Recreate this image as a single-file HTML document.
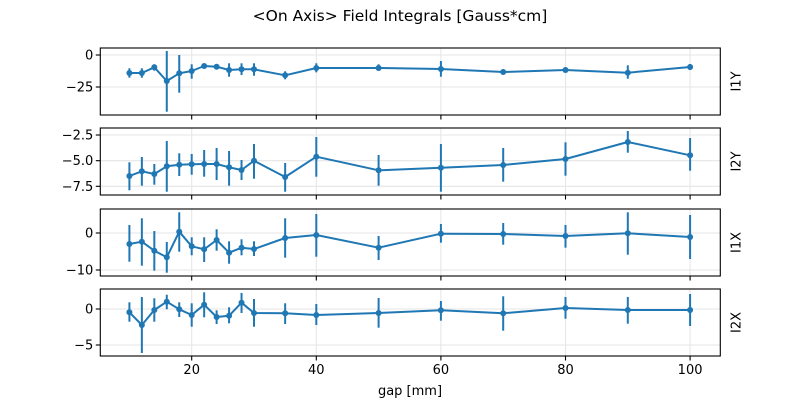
<!DOCTYPE html>
<html><head><meta charset="utf-8"><style>
html,body{margin:0;padding:0;background:#fff}
svg{display:block;font-family:"DejaVu Sans","Liberation Sans",sans-serif}
</style></head><body>
<svg id="s" width="800" height="400" xmlns="http://www.w3.org/2000/svg">
<text x="400" y="21" font-size="15.5" text-anchor="middle" fill="#000">&lt;On Axis&gt; Field Integrals [Gauss*cm]</text>
<text x="410" y="395" font-size="13" text-anchor="middle">gap [mm]</text>
</svg>
<script>
const s=document.getElementById('s');const NS='http://www.w3.org/2000/svg';
function el(t,a,txt){const e=document.createElementNS(NS,t);for(const k in a)e.setAttribute(k,a[k]);if(txt!==undefined)e.textContent=txt;s.appendChild(e);return e;}
const gaps=[10,12,14,16,18,20,22,24,26,28,30,35,40,50,60,70,80,90,100];
const X=g=>191.7+(g-20)*6.23;
const L=100.3,R=720.3;
const panels=[
{top:48,bot:115,lab:'I1Y',ticks:[[55,'0'],[87,'−25']],d:[[73,68.3,77.7],[73,68.3,77.7],[67.3,64.3,70.7],[81,51,111.7],[73.3,55,92.7],[71,64.3,78.7],[66,64.7,67.3],[66.7,65.3,68],[70,63.3,76.7],[69.3,63.3,75],[69.3,63.3,75.7],[75.3,71.3,79.3],[68,63.3,72.3],[68,64.3,70.7],[69,61,76.7],[72,71,73],[70,69,71],[72.7,65.3,78.7],[67,64,70]]},
{top:128,bot:195,lab:'I2Y',ticks:[[135,'−2.5'],[160.7,'−5.0'],[186.3,'−7.5']],d:[[176,162.3,190.3],[171.3,157,185.7],[174,164,184.7],[166.3,141,191.7],[164.7,153.3,176],[164.3,154,174.7],[164,150,176.7],[164,148,180],[167.3,151,185.7],[170,160,180],[160.7,144,178.7],[177,163,191.7],[156.7,137,176.7],[170.3,155,185.7],[167.7,144,191.7],[165,148,181.7],[159,142.3,175.7],[142,131,152.7],[155.3,138,170.7]]},
{top:209,bot:276,lab:'I1X',ticks:[[233,'0'],[270,'−10']],d:[[244,225,261.7],[241.7,218.3,265.7],[250.7,231,270.7],[257.3,242,272.7],[231.7,212.3,251.7],[246.3,237.3,255.3],[249.3,237.3,262],[240,229.3,250.7],[252.7,241.3,263.7],[247.7,239.3,255.3],[249,241.3,256],[238,218.3,257.7],[235,214,256.7],[247.7,236,260],[233.7,224,242.7],[234,223,244.7],[236,225,247.7],[233.3,212.3,254.7],[237,215,259]]},
{top:289,bot:356,lab:'I2X',ticks:[[309,'0'],[345,'−5']],d:[[312.3,302.3,321.7],[325,297,353],[310,298.3,321.7],[301.7,294.7,309.3],[309.3,302.3,317],[315,303.3,326.7],[304.7,292.3,317.3],[317,310.3,324],[315.7,307.3,323.3],[302.7,293,313],[313,299,326.7],[313.3,303.3,324],[315,304,325],[313,298,327.7],[310.3,301,320.7],[313.3,296.3,330.7],[308,297,318.7],[310,297,323.7],[310,294,326]]}
];
const xt=[20,40,60,80,100];
panels.forEach((p,i)=>{
  xt.forEach(g=>el('line',{x1:X(g),x2:X(g),y1:p.top,y2:p.bot,stroke:'#e6e6e6','stroke-width':1.1}));
  p.ticks.forEach(t=>{el('line',{x1:L,x2:R,y1:t[0],y2:t[0],stroke:'#e6e6e6','stroke-width':1.1});
    el('line',{x1:L-4.5,x2:L,y1:t[0],y2:t[0],stroke:'#000','stroke-width':1.1});
    el('text',{x:L-7,y:t[0]+4.5,'font-size':13,'text-anchor':'end'},t[1]);});
  xt.forEach(g=>el('line',{x1:X(g),x2:X(g),y1:p.bot,y2:p.bot+4.5,stroke:'#000','stroke-width':1.1}));
  p.d.forEach((v,j)=>el('line',{x1:X(gaps[j]),x2:X(gaps[j]),y1:v[1],y2:v[2],stroke:'#1f77b4','stroke-width':2}));
  el('polyline',{points:p.d.map((v,j)=>X(gaps[j])+','+v[0]).join(' '),fill:'none',stroke:'#1f77b4','stroke-width':2,'stroke-linejoin':'round'});
  p.d.forEach((v,j)=>el('circle',{cx:X(gaps[j]),cy:v[0],r:3,fill:'#1f77b4'}));
  el('rect',{x:L,y:p.top,width:R-L,height:p.bot-p.top,fill:'none',stroke:'#000','stroke-width':1.1});
  const cy=(p.top+p.bot)/2;
  el('text',{x:737,y:cy,'font-size':13,'text-anchor':'middle',transform:`rotate(-90 737 ${cy})`,'dominant-baseline':'middle'},p.lab);
  if(i==3) xt.forEach(g=>el('text',{x:X(g),y:p.bot+18,'font-size':13,'text-anchor':'middle'},String(g)));
});
</script>
</body></html>
